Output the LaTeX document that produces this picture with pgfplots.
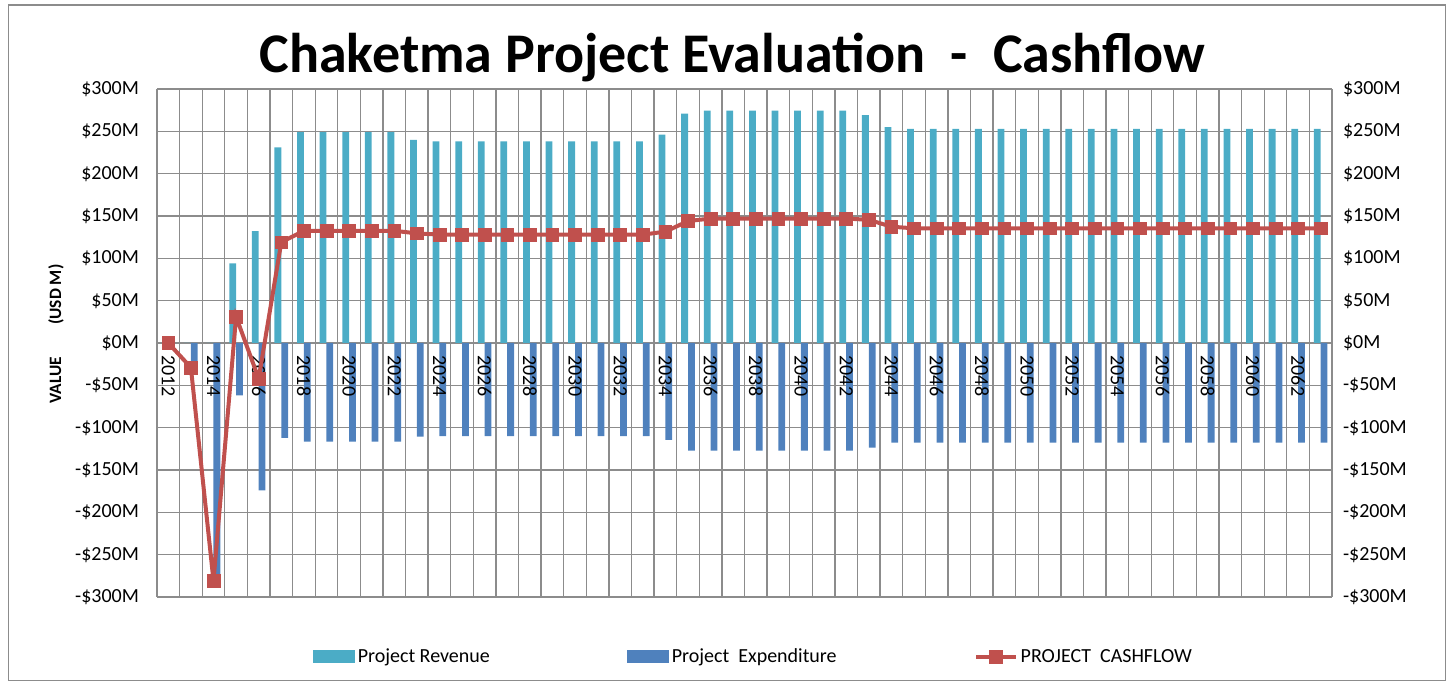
\documentclass[border=0pt]{standalone}
\usepackage{pgfplots}
\usepackage{pgfplotstable}
\pgfplotsset{compat=1.18}
\usepackage{fontspec}
\setmainfont{Carlito}
\definecolor{revcol}{RGB}{75,172,198}
\definecolor{expcol}{RGB}{79,129,189}
\definecolor{cashcol}{RGB}{192,80,77}
\definecolor{gridcol}{RGB}{140,140,140}

\pgfplotstableread{
year rev exp cash
2012 0 0 0
2013 0 -29 -29
2014 0 -281 -281
2015 94 -62 31
2016 132 -174 -42
2017 231 -112 119
2018 249 -116.5 132.5
2019 249 -116.5 132.5
2020 249 -116.5 132.5
2021 249 -116.5 132.5
2022 249 -116.5 132.5
2023 240 -110.5 129.5
2024 238 -110 128
2025 238 -110 128
2026 238 -110 128
2027 238 -110 128
2028 238 -110 128
2029 238 -110 128
2030 238 -110 128
2031 238 -110 128
2032 238 -110 128
2033 238 -110 128
2034 246 -114.5 131.5
2035 271 -127 144
2036 274.5 -127 147
2037 274.5 -127 147
2038 274.5 -127 147
2039 274.5 -127 147
2040 274.5 -127 147
2041 274.5 -127 147
2042 274.5 -127 147
2043 269 -123.5 145.5
2044 255 -117.6 137.4
2045 253 -117.6 135.4
2046 253 -117.6 135.4
2047 253 -117.6 135.4
2048 253 -117.6 135.4
2049 253 -117.6 135.4
2050 253 -117.6 135.4
2051 253 -117.6 135.4
2052 253 -117.6 135.4
2053 253 -117.6 135.4
2054 253 -117.6 135.4
2055 253 -117.6 135.4
2056 253 -117.6 135.4
2057 253 -117.6 135.4
2058 253 -117.6 135.4
2059 253 -117.6 135.4
2060 253 -117.6 135.4
2061 253 -117.6 135.4
2062 253 -117.6 135.4
2063 253 -117.6 135.4
}\datatable

\begin{document}
\begin{tikzpicture}
\useasboundingbox (-117.75pt,-63.75pt) rectangle (967.5pt,447.75pt);
% axis 1: grid, bars, left labels, legend
\begin{axis}[
  at={(0pt,0pt)}, anchor=south west,
  scale only axis, width=881.25pt, height=381pt,
  xmin=2011.5, xmax=2063.5, ymin=-300, ymax=300,
  axis x line*=middle, axis y line*=left,
  x axis line style={-, draw=gridcol, line width=1pt},
  y axis line style={-, draw=gridcol, line width=1pt},
  xtick={2012,2014,...,2062}, xticklabels={},
  minor xtick={2011.5,2012.5,...,2063.5},
  xminorgrids, ymajorgrids,
  minor grid style={draw=gridcol, line width=1pt},
  major grid style={draw=gridcol, line width=1pt},
  major tick length=0pt, minor tick length=0pt,
  ytick={-300,-250,...,300},
  yticklabels={-\$300M,-\$250M,-\$200M,-\$150M,-\$100M,-\$50M,\$0M,\$50M,\$100M,\$150M,\$200M,\$250M,\$300M},
  yticklabel style={font=\fontsize{15}{15}\selectfont, xshift=-10pt},
  legend columns=3,
  legend style={at={(0.508,-0.118)}, anchor=center, draw=none, fill=none,
    font=\fontsize{15}{15}\selectfont,
    /tikz/every even column/.append style={column sep=101pt}},
]
\addplot[ybar, bar width=0.3, bar shift=-0.15, fill=revcol, draw=none,
  legend image code/.code={\fill[revcol] (0pt,-4.9pt) rectangle (31.5pt,4.9pt);}]
  table[x=year, y=rev]{\datatable};
\addlegendentry{Project Revenue}
\addplot[ybar, bar width=0.3, bar shift=0.15, fill=expcol, draw=none,
  legend image code/.code={\fill[expcol] (0pt,-4.9pt) rectangle (31.5pt,4.9pt);}]
  table[x=year, y=exp]{\datatable};
\addlegendentry{Project\ \ Expenditure}
\addlegendimage{legend image code/.code={\draw[cashcol, line width=3pt] (0pt,0pt) -- (30pt,0pt); \fill[cashcol] (10.2pt,-4.8pt) rectangle (19.8pt,4.8pt);}}
\addlegendentry{PROJECT\ \ CASHFLOW}
\end{axis}
% axis 2: year labels and right labels
\begin{axis}[
  at={(0pt,0pt)}, anchor=south west,
  scale only axis, width=881.25pt, height=381pt,
  xmin=2011.5, xmax=2063.5, ymin=-300, ymax=300,
  axis x line*=middle, axis y line*=right,
  x axis line style={draw=none},
  y axis line style={-, draw=gridcol, line width=1pt},
  major tick length=0pt,
  xtick={2012,2014,...,2062},
  /pgf/number format/assume math mode=true,
  /pgf/number format/1000 sep={},
  xticklabel style={font=\fontsize{15}{15}\selectfont, yshift=-6pt, rotate=-90, anchor=west},
  ytick={-300,-250,...,300},
  yticklabels={-\$300M,-\$250M,-\$200M,-\$150M,-\$100M,-\$50M,\$0M,\$50M,\$100M,\$150M,\$200M,\$250M,\$300M},
  yticklabel style={font=\fontsize{15}{15}\selectfont, xshift=4.75pt},
]
\addplot[draw=none] coordinates {(2012,0)};
\end{axis}
% axis 3: cashflow line on top
\begin{axis}[
  at={(0pt,0pt)}, anchor=south west,
  scale only axis, width=881.25pt, height=381pt,
  xmin=2011.5, xmax=2063.5, ymin=-300, ymax=300,
  axis lines=none, xtick=\empty, ytick=\empty,
]
\addplot[cashcol, line width=3pt, mark=square*, mark size=4.8pt,
  mark options={solid, fill=cashcol, draw=cashcol, line width=0.5pt}]
  table[x=year, y=cash]{\datatable};
\end{axis}
\node[anchor=base, font=\fontsize{42}{42}\selectfont\bfseries] at (431.6pt,393pt) {Chaketma Project Evaluation\ \ -\ \ Cashflow};
\node[rotate=90, font=\fontsize{13}{13}\selectfont\bfseries] at (-75.75pt,197.25pt) {VALUE\hspace{24pt}(USD M)};
\draw[gridcol, line width=1.2pt] (-111.4pt,444pt) rectangle (966.4pt,-62.6pt);
\end{tikzpicture}
\end{document}
